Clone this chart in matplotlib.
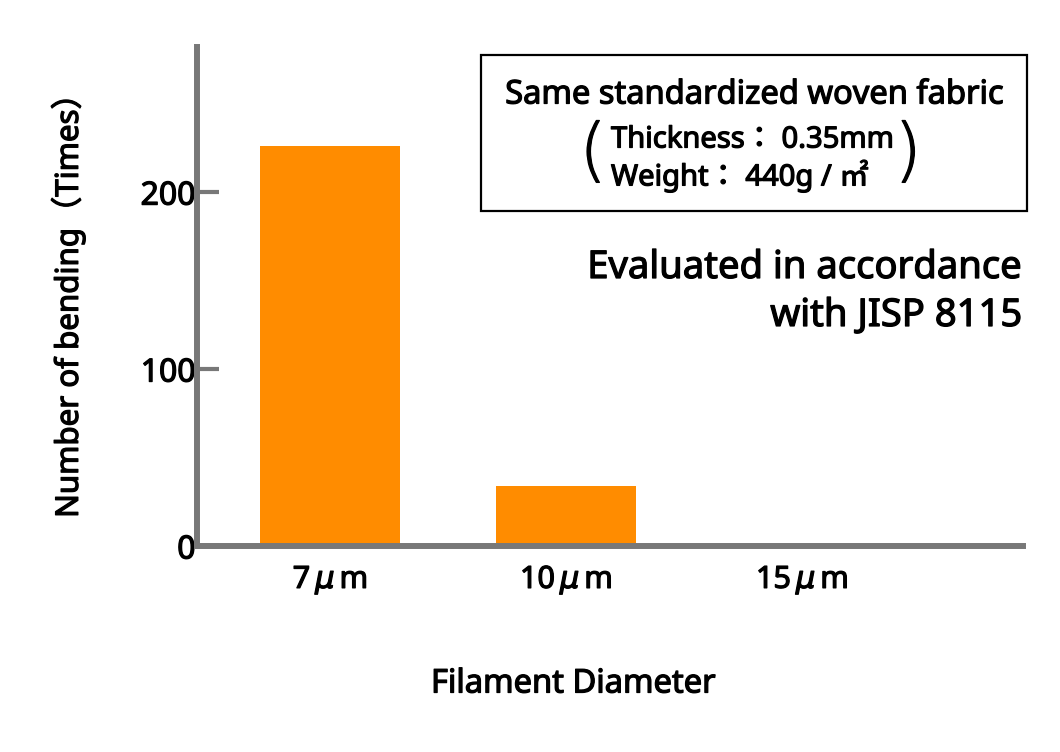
import matplotlib.pyplot as plt
import matplotlib.patheffects as pe
from matplotlib.patches import Rectangle

plt.rcParams['font.family'] = ['Noto Sans', 'Noto Sans CJK JP', 'DejaVu Sans']
plt.rcParams['mathtext.default'] = 'it'

# data
categories = [r'7$\,\mu\,$m', r'10$\,\mu\,$m', r'15$\,\mu\,$m']
bending = [226, 34, 0]
y_ticks = [0, 100, 200]
bar_color = '#FF8C00'
axis_gray = '#787878'

# a thin outline makes the regular face look like the medium weight in the original
thick = [pe.withStroke(linewidth=0.9, foreground='black')]

fig = plt.figure(figsize=(10.6, 7.52), dpi=100)
ax = fig.add_axes([197/1060, 1-546/752, (1023-197)/1060, (546-47)/752])

x = list(range(len(categories)))
ax.bar(x, bending, width=0.593, color=bar_color, zorder=1)

ax.set_xlim(-0.564, 2.936)
ax.set_ylim(0, 282)
ax.set_yticks(y_ticks)
ax.set_xticks(x)
ax.set_xticklabels(categories)

for s in ['top', 'right']:
    ax.spines[s].set_visible(False)
for s in ['left', 'bottom']:
    ax.spines[s].set_color(axis_gray)
    ax.spines[s].set_linewidth(4.3)
ax.tick_params(axis='y', direction='in', length=16, width=3, color=axis_gray,
               labelsize=23, pad=1)
ax.tick_params(axis='x', length=0, labelsize=22, pad=13)
for t in ax.get_xticklabels() + ax.get_yticklabels():
    t.set_path_effects(thick)

texts = []
texts.append(fig.text(68/1060, 1-298/752, 'Number of bending\uff08Times\uff09', rotation=90,
                      ha='center', va='center', fontsize=22.5))
texts.append(fig.text(573/1060, 1-684/752, 'Filament Diameter', ha='center', va='center',
                      fontsize=23.5))

# info box
fig.add_artist(Rectangle((481/1060, 1-211/752), (1027-481)/1060, (211-55)/752,
                         transform=fig.transFigure, fill=False, edgecolor='black',
                         linewidth=1.6))
texts.append(fig.text(754/1060, 1-95/752, 'Same standardized woven fabric', ha='center',
                      va='center', fontsize=23.5))
texts.append(fig.text(611/1060, 1-140/752, 'Thickness\uff1a 0.35mm', ha='left', va='center',
                      fontsize=21))
texts.append(fig.text(611/1060, 1-176/752, 'Weight\uff1a 440g / \u33a1', ha='left',
                      va='center', fontsize=21))
texts.append(fig.text(593/1060, 1-154/752, '(', ha='center', va='center', fontsize=50,
                      family='DejaVu Sans', fontweight='light'))
texts.append(fig.text(908/1060, 1-154/752, ')', ha='center', va='center', fontsize=50,
                      family='DejaVu Sans', fontweight='light'))

texts.append(fig.text(1022/1060, 1-268/752, 'Evaluated in accordance', ha='right',
                      va='center', fontsize=27.5))
texts.append(fig.text(1022/1060, 1-316/752, 'with JISP 8115', ha='right', va='center',
                      fontsize=27.5))
for t in texts:
    t.set_path_effects(thick)

fig.savefig('out.png', dpi=100)
